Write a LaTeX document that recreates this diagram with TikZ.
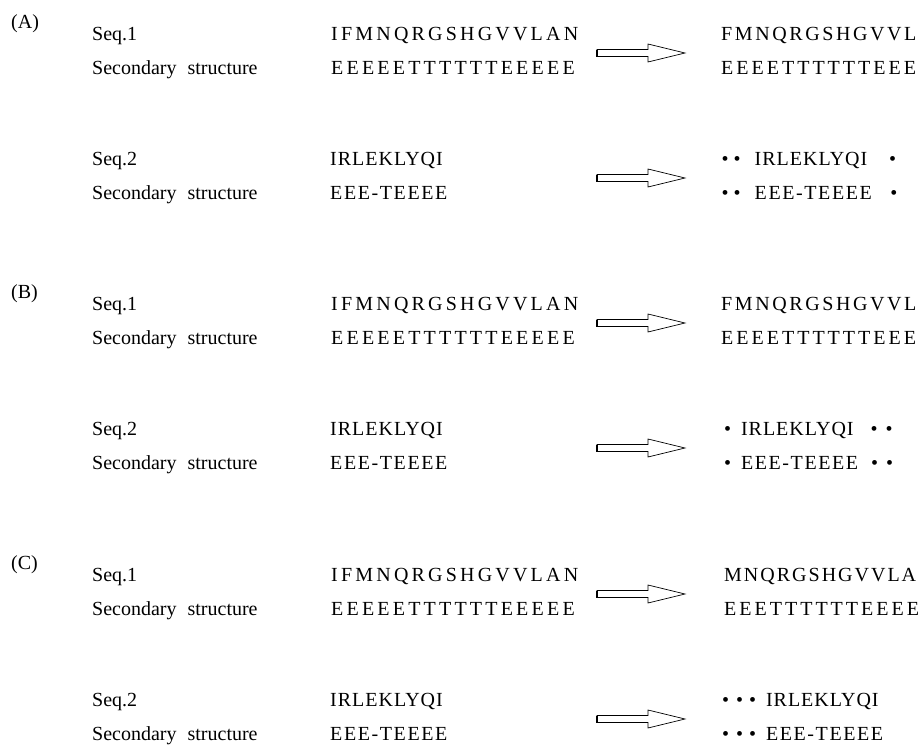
\documentclass[tikz,border=0pt]{standalone}
\usepackage{fontspec}
\setmainfont{Liberation Serif}
\usepackage{tikz}

\newcommand{\spaced}[2]{{\addfontfeature{LetterSpace=#1}#2}}

\begin{document}
\begin{tikzpicture}[x=1pt,y=-1pt,
  lbl/.style={anchor=base west,inner sep=0pt,font=\fontsize{20}{24}\selectfont},
  arr/.style={draw=black,fill=white,line width=0.7pt,line join=miter}
]
  \useasboundingbox (0,0) rectangle (924,747);

  % Panels, left part
  \foreach \p/\o in {A/0,B/270,C/541}{
    \node[lbl] (tag\p) at (11,28+\o) {(\p)};
    \node[lbl] (nameA\p) at (92,40+\o) {Seq.1};
    \node[lbl] (ssnameA\p) at (92,74+\o) {Secondary\hspace{11pt}structure};
    \node[lbl] (seqA\p) at (331,40+\o) {\spaced{16}{IFMNQRGSHGVVLAN}};
    \node[lbl] (ssA\p) at (331,74+\o) {\spaced{16}{EEEEETTTTTTEEEEE}};
    \node[lbl] (nameB\p) at (92,165+\o) {Seq.2};
    \node[lbl] (ssnameB\p) at (92,199+\o) {Secondary\hspace{11pt}structure};
    \node[lbl] (seqB\p) at (330,165+\o) {\spaced{5}{IRLEKLYQI}};
    \node[lbl] (ssB\p) at (330,199+\o) {\spaced{8}{EEE-TEEEE}};
  }

  % Block arrows
  \foreach \c in {53,178,323,448,594,719}{
    \draw[arr] (597,\c-3.5) -- (648,\c-3.5) -- (648,\c-9) -- (685,\c)
      -- (648,\c+9) -- (648,\c+3.5) -- (597,\c+3.5) -- cycle;
    \draw[line width=2pt] (597,\c-3.5) -- (597,\c+3.5);
  }

  % Results (A)
  \node[lbl] (outA1) at (721,40) {\spaced{13}{FMNQRGSHGVVL}};
  \node[lbl] (outA1ss) at (721,74) {\spaced{15}{EEEETTTTTTEEE}};
  \node[lbl] (outA2) at (721.5,165) {\textbullet\hspace{5pt}\textbullet\hspace{14pt}\spaced{5}{IRLEKLYQI}\hspace{21.8pt}\textbullet};
  \node[lbl] (outA2ss) at (721.5,199) {\textbullet\hspace{5pt}\textbullet\hspace{14pt}\spaced{8}{EEE-TEEEE}\hspace{18.5pt}\textbullet};

  % Results (B)
  \node[lbl] (outB1) at (721,310) {\spaced{13}{FMNQRGSHGVVL}};
  \node[lbl] (outB1ss) at (721,344) {\spaced{15}{EEEETTTTTTEEE}};
  \node[lbl] (outB2) at (723.8,435) {\textbullet\hspace{10pt}\spaced{5}{IRLEKLYQI}\hspace{17pt}\textbullet\hspace{8pt}\textbullet};
  \node[lbl] (outB2ss) at (723.8,469) {\textbullet\hspace{10pt}\spaced{8}{EEE-TEEEE}\hspace{13pt}\textbullet\hspace{8pt}\textbullet};

  % Results (C)
  \node[lbl] (outC1) at (724,581) {\spaced{10}{MNQRGSHGVVLA}};
  \node[lbl] (outC1ss) at (724,615) {\spaced{15}{EEETTTTTTEEEE}};
  \node[lbl] (outC2) at (721.8,706) {\textbullet\hspace{7pt}\textbullet\hspace{6pt}\textbullet\hspace{10pt}\spaced{5}{IRLEKLYQI}};
  \node[lbl] (outC2ss) at (721.8,740) {\textbullet\hspace{7pt}\textbullet\hspace{6pt}\textbullet\hspace{10pt}\spaced{8}{EEE-TEEEE}};
\end{tikzpicture}
\end{document}
